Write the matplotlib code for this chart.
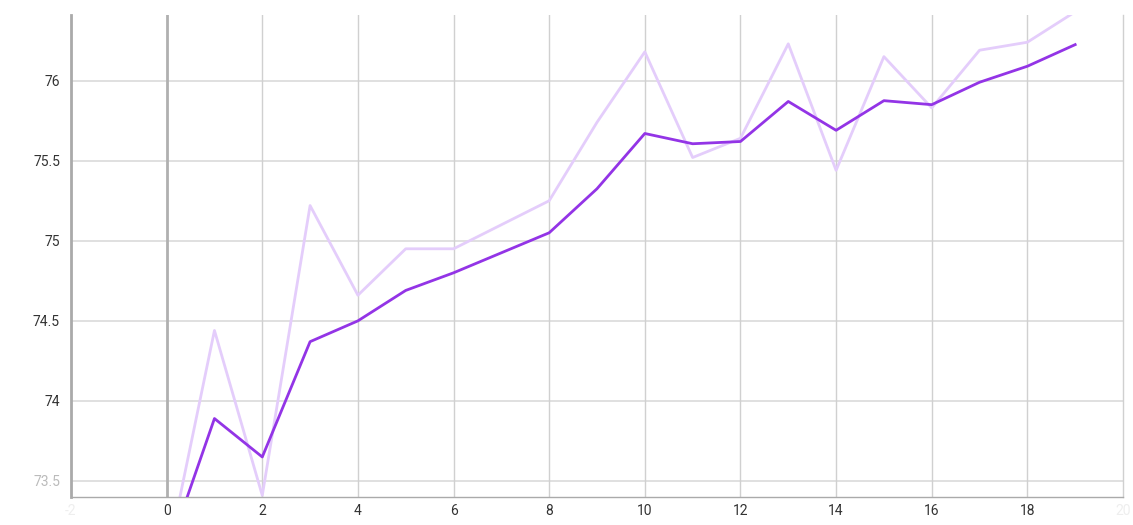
import matplotlib
matplotlib.use("Agg")
import matplotlib.pyplot as plt

steps = list(range(20))
raw = [73.00, 74.44, 73.41, 75.22, 74.66, 74.95, 74.95, 75.10, 75.25, 75.74,
       76.18, 75.52, 75.64, 76.23, 75.44, 76.15, 75.83, 76.19, 76.24, 76.43]
smoothed = [73.03, 73.89, 73.65, 74.37, 74.50, 74.69, 74.80, 74.925, 75.05, 75.325,
            75.67, 75.606, 75.62, 75.87, 75.69, 75.875, 75.85, 75.99, 76.09, 76.225]
x_ticks = [-2, 0, 2, 4, 6, 8, 10, 12, 14, 16, 18, 20]
y_ticks = [73.5, 74, 74.5, 75, 75.5, 76]
y_labels = ["73.5", "74", "74.5", "75", "75.5", "76"]

plt.rcParams['font.family'] = ['Roboto', 'DejaVu Sans']
fig = plt.figure(figsize=(11.33, 5.25), dpi=100)
ax = fig.add_axes([71/1133, 28/525, (1123-71)/1133, (497-15)/525])

ax.set_xlim(-2.0, 20.0)
ax.set_ylim(73.40, 76.41)

for yt in y_ticks:
    ax.axhline(yt, color="#dddddd", lw=1.3, zorder=0)
for xt in x_ticks:
    if xt == 0:
        ax.axvline(xt, color="#b0b0b0", lw=2.0, zorder=0)
    elif xt == 20:
        ax.axvline(xt, color="#d0d0d0", lw=1.0, zorder=0, clip_on=False)
    else:
        ax.axvline(xt, color="#d0d0d0", lw=1.0, zorder=0)

ax.plot(steps, raw, color="#e4cdfb", lw=2.0, zorder=2, clip_on=True)
ax.plot(steps, smoothed, color="#9334e6", lw=2.0, zorder=3)

for s in ["top", "right"]:
    ax.spines[s].set_visible(False)
ax.spines["left"].set_color("#aaaaaa")
ax.spines["left"].set_linewidth(2.0)
ax.spines["bottom"].set_color("#aaaaaa")
ax.spines["bottom"].set_linewidth(1.0)

ax.set_xticks(x_ticks)
ax.set_xticklabels([str(v) for v in x_ticks])
ax.set_yticks(y_ticks)
ax.set_yticklabels(y_labels)
ax.tick_params(axis="y", length=0, labelsize=10, colors="#333333", pad=8)
ax.tick_params(axis="x", length=0, labelsize=10, colors="#333333", pad=5)
for lbl in ax.get_yticklabels():
    if lbl.get_text() == "73.5":
        lbl.set_color("#bbbbbb")
for lbl in ax.get_xticklabels():
    if lbl.get_text() in ("-2", "20"):
        lbl.set_color("#eeeeee")

fig.savefig("out.png", dpi=100)
